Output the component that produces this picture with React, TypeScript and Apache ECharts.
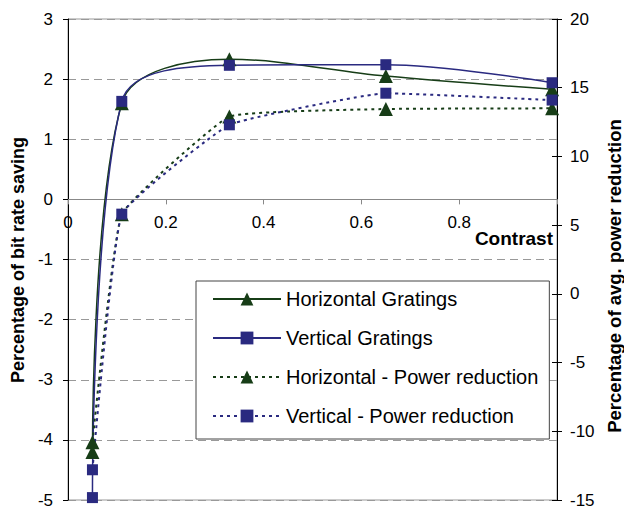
import React, { useEffect, useRef } from "react";
import * as echarts from "echarts";

const contrast = [0.05, 0.11, 0.33, 0.65, 0.99];
const horizontalGratings = [-4.2, 1.6, 2.33, 2.05, 1.83];
const verticalGratings = [-4.96, 1.63, 2.23, 2.24, 1.94];
const horizontalPower = [-10.8, 5.8, 12.9, 13.45, 13.5];
const verticalPower = [-12.8, 5.8, 12.3, 14.6, 14.1];

const seriesNames = [
  "Horizontal Gratings",
  "Vertical Gratings",
  "Horizontal - Power reduction",
  "Vertical - Power reduction",
];

const leftMin = -5;
const leftMax = 3;
const rightMin = -15;
const rightMax = 20;

const GREEN = "#173d17";
const BLUE = "#2a2a80";
const FONT = "'Liberation Sans', Arial, sans-serif";

const W = 624;
const H = 510;
const GRID = { left: 68, right: 67, top: 19, bottom: 10 };

const pairs = (ys: number[]) => contrast.map((x, i) => [x, ys[i]]);

export default function App() {
  const ref = useRef<HTMLDivElement>(null);
  useEffect(() => {
    if (!ref.current) return;
    const chart = echarts.init(ref.current, null, { renderer: "svg" });
    const gridH = H - GRID.top - GRID.bottom;
    const zeroOffset = -((0 - leftMin) / (leftMax - leftMin)) * gridH;
    const mk = (
      name: string,
      data: number[],
      color: string,
      symbol: string,
      size: number,
      dashed: boolean,
      yAxisIndex: number
    ) => ({
      name,
      type: "line",
      yAxisIndex,
      data: pairs(data),
      smooth: dashed ? 0.1 : 0.35,
      symbol,
      symbolSize: size,
      itemStyle: { color },
      lineStyle: {
        color,
        width: dashed ? 2 : 1.5,
        type: dashed ? [3, 4] : "solid",
      },
    });
    chart.setOption({
      animation: false,
      textStyle: { fontFamily: FONT },
      grid: {
        ...GRID,
        containLabel: false,
        outerBoundsMode: "none",
        show: true,
        borderColor: "#999",
        borderWidth: 1,
        backgroundColor: "transparent",
      },
      xAxis: {
        type: "value",
        min: 0,
        max: 1,
        interval: 0.2,
        position: "bottom",
        offset: zeroOffset,
        axisLine: {
          onZero: false,
          lineStyle: { color: "#888", width: 1 },
        },
        axisTick: { show: true, length: 5, lineStyle: { color: "#888" } },
        axisLabel: {
          color: "#000",
          fontSize: 17,
          fontFamily: FONT,
          margin: 15,
          formatter: (v: number) => (v >= 1 ? "" : String(v)),
        },
        splitLine: { show: false },
      },
      yAxis: [
        {
          type: "value",
          min: leftMin,
          max: leftMax,
          interval: 1,
          axisLine: { show: true, onZero: false, lineStyle: { color: "#000" } },
          axisTick: { show: true, length: 5, lineStyle: { color: "#000" } },
          axisLabel: { color: "#000", fontSize: 17, fontFamily: FONT, margin: 15 },
          splitLine: { show: true, lineStyle: { color: "#999", type: [8, 5] } },
        },
        {
          type: "value",
          min: rightMin,
          max: rightMax,
          interval: 5,
          position: "right",
          axisLine: { show: true, onZero: false, lineStyle: { color: "#000" } },
          axisTick: { show: true, length: 5, lineStyle: { color: "#000" } },
          axisLabel: { color: "#000", fontSize: 17, fontFamily: FONT, margin: 13 },
          splitLine: { show: false },
        },
        {
          type: "value",
          min: rightMin,
          max: rightMax,
          interval: 5,
          position: "right",
          axisLine: { show: false, onZero: false },
          axisTick: { show: true, inside: true, length: 5, lineStyle: { color: "#000" } },
          axisLabel: { show: false },
          splitLine: { show: false },
        },
      ],
      legend: {
        orient: "vertical",
        left: 196,
        top: 281,
        backgroundColor: "#fff",
        borderColor: "#444",
        borderWidth: 1,
        padding: [8, 11, 13, 16],
        itemGap: 19,
        itemWidth: 68,
        itemHeight: 16,
        textStyle: { fontSize: 20, lineHeight: 20, color: "#000", fontFamily: FONT },
        data: seriesNames,
      },
      graphic: [
        {
          type: "text",
          x: 18,
          y: 260,
          rotation: Math.PI / 2,
          style: {
            text: "Percentage of bit rate saving",
            align: "center",
            verticalAlign: "middle",
            font: `bold 18px ${FONT}`,
            fill: "#000",
          },
        },
        {
          type: "text",
          x: 614,
          y: 276,
          rotation: Math.PI / 2,
          style: {
            text: "Percentage of avg. power reduction",
            align: "center",
            verticalAlign: "middle",
            font: `bold 18.5px ${FONT}`,
            fill: "#000",
          },
        },
        {
          type: "text",
          x: 553,
          y: 238,
          style: {
            text: "Contrast",
            align: "right",
            verticalAlign: "middle",
            font: `bold 19px ${FONT}`,
            fill: "#000",
          },
        },
      ],
      series: [
        mk(seriesNames[0], horizontalGratings, GREEN, "triangle", 14, false, 0),
        mk(seriesNames[1], verticalGratings, BLUE, "rect", 11, false, 0),
        mk(seriesNames[2], horizontalPower, GREEN, "triangle", 14, true, 1),
        mk(seriesNames[3], verticalPower, BLUE, "rect", 11, true, 1),
      ],
    });
    return () => chart.dispose();
  }, []);
  return (
    <div
      ref={ref}
      style={{ position: "absolute", left: 0, top: 0, width: W, height: H }}
    />
  );
}
